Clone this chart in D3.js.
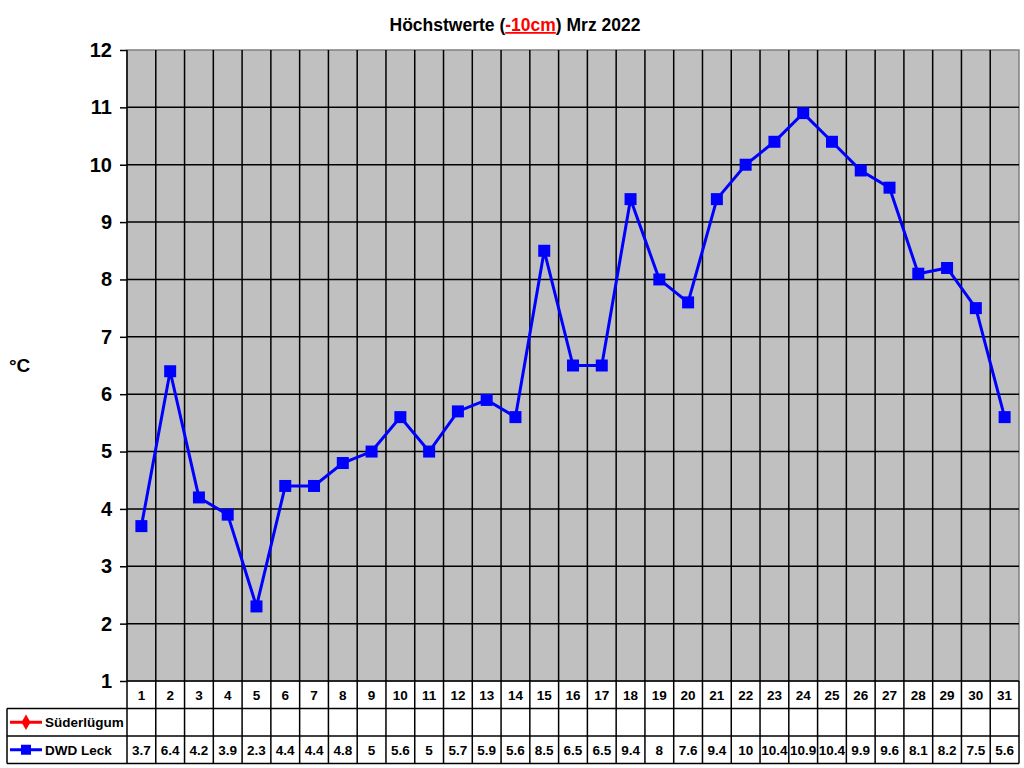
<!DOCTYPE html>
<html>
<head>
<meta charset="utf-8">
<script src="https://cdn.jsdelivr.net/npm/d3@7"></script>
<style>
  body { margin: 0; background: #fff; }
  svg { font-family: "Liberation Sans", Arial, sans-serif; font-weight: bold; }
</style>
</head>
<body>
<svg id="chart" width="1024" height="768"></svg>
<script>
// data
const days = d3.range(1, 32);
const dwdLeck = [3.7, 6.4, 4.2, 3.9, 2.3, 4.4, 4.4, 4.8, 5, 5.6, 5, 5.7, 5.9, 5.6, 8.5,
                 6.5, 6.5, 9.4, 8, 7.6, 9.4, 10, 10.4, 10.9, 10.4, 9.9, 9.6, 8.1, 8.2, 7.5, 5.6];
const suederluegum = [];  // no values this month
const yTicks = d3.range(1, 13);

const svg = d3.select("#chart");
const plotLeft = 127, plotRight = 1019, plotTop = 50, plotBottom = 681;
const rowH = 27.5;

let x = d3.scaleBand().domain(days).range([plotLeft, plotRight]);
let y = d3.scaleLinear().domain([1, 12]).range([plotBottom, plotTop]);

// plot background
svg.append("rect")
    .attr("x", plotLeft).attr("y", plotTop)
    .attr("width", plotRight - plotLeft).attr("height", plotBottom - plotTop)
    .attr("fill", "#c0c0c0")
    .attr("stroke", "#808080").attr("stroke-width", 1.5);

// horizontal grid
svg.append("g").selectAll("line")
    .data(yTicks.slice(1, -1))
    .join("line")
    .attr("x1", plotLeft).attr("x2", plotRight)
    .attr("y1", d => y(d)).attr("y2", d => y(d))
    .attr("stroke", "#000").attr("stroke-width", 1.5);

// vertical lines (plot + table)
svg.append("g").selectAll("line")
    .data(days.slice(1))
    .join("line")
    .attr("x1", d => x(d)).attr("x2", d => x(d))
    .attr("y1", plotTop).attr("y2", plotBottom + 3 * rowH)
    .attr("stroke", "#000").attr("stroke-width", 1.5);

// y axis
let yAxis = d3.axisLeft(y).tickValues(yTicks).tickSize(7).tickPadding(8);
let gy = svg.append("g").attr("transform", `translate(${plotLeft},0)`).call(yAxis);
gy.select(".domain").remove();
gy.selectAll(".tick line").attr("stroke", "#000").attr("stroke-width", 1.5);
gy.selectAll(".tick text")
    .attr("fill", "#000")
    .style("font-size", "20px").style("font-weight", "bold")
    .style("font-family", "'Liberation Sans', Arial, sans-serif");
svg.append("line")
    .attr("x1", plotLeft).attr("x2", plotLeft)
    .attr("y1", plotTop).attr("y2", plotBottom + 3 * rowH)
    .attr("stroke", "#000").attr("stroke-width", 1.5);

// table
const tableLeft = 7;
const rowsY = [plotBottom, plotBottom + rowH, plotBottom + 2 * rowH, plotBottom + 3 * rowH];
svg.append("line").attr("x1", plotLeft).attr("x2", plotRight)
    .attr("y1", rowsY[0]).attr("y2", rowsY[0]).attr("stroke", "#000").attr("stroke-width", 1.5);
[1, 2, 3].forEach(i => {
    svg.append("line").attr("x1", tableLeft).attr("x2", plotRight)
        .attr("y1", rowsY[i]).attr("y2", rowsY[i]).attr("stroke", "#000").attr("stroke-width", 1.5);
});
svg.append("line").attr("x1", tableLeft).attr("x2", tableLeft)
    .attr("y1", rowsY[1]).attr("y2", rowsY[3]).attr("stroke", "#000").attr("stroke-width", 1.5);
svg.append("line").attr("x1", plotRight).attr("x2", plotRight)
    .attr("y1", rowsY[0]).attr("y2", rowsY[3]).attr("stroke", "#000").attr("stroke-width", 1.5);

// day labels
svg.append("g").selectAll("text")
    .data(days)
    .join("text")
    .attr("x", d => x(d) + x.bandwidth() / 2)
    .attr("y", rowsY[0] + rowH / 2 + 5)
    .attr("text-anchor", "middle")
    .style("font-size", "13.5px")
    .text(d => d);

// value labels
svg.append("g").selectAll("text")
    .data(dwdLeck)
    .join("text")
    .attr("x", (d, i) => x(days[i]) + x.bandwidth() / 2)
    .attr("y", rowsY[2] + rowH / 2 + 5)
    .attr("text-anchor", "middle")
    .style("font-size", "13.5px")
    .text(d => d);

// legend entries
let leg = [
    {name: "Süderlügum", color: "#ff0000", shape: d3.symbolDiamond, row: 1},
    {name: "DWD Leck", color: "#0000ff", shape: d3.symbolSquare, row: 2}
];
leg.forEach(l => {
    let cy = rowsY[l.row] + rowH / 2;
    svg.append("line").attr("x1", 10).attr("x2", 42)
        .attr("y1", cy).attr("y2", cy)
        .attr("stroke", l.color).attr("stroke-width", 3);
    svg.append("path")
        .attr("d", d3.symbol().type(l.shape).size(l.shape === d3.symbolSquare ? 100 : 70)())
        .attr("transform", `translate(26,${cy})`)
        .attr("fill", l.color);
    svg.append("text").attr("x", 45).attr("y", cy + 5)
        .style("font-size", "13.5px").text(l.name);
});

// series line
let line = d3.line()
    .x((d, i) => x(days[i]) + x.bandwidth() / 2)
    .y(d => y(d));
svg.append("path")
    .datum(dwdLeck)
    .attr("d", line)
    .attr("fill", "none")
    .attr("stroke", "#0000ff").attr("stroke-width", 3);
svg.append("g").selectAll("rect")
    .data(dwdLeck)
    .join("rect")
    .attr("x", (d, i) => x(days[i]) + x.bandwidth() / 2 - 6)
    .attr("y", d => y(d) - 6)
    .attr("width", 12).attr("height", 12)
    .attr("fill", "#0000ff");

// y label
svg.append("text").attr("x", 9).attr("y", 372)
    .style("font-size", "19px").text("°C");

// title
let title = svg.append("text").attr("x", 515).attr("y", 31)
    .attr("text-anchor", "middle").style("font-size", "17.5px");
title.append("tspan").text("Höchstwerte (");
title.append("tspan").attr("fill", "#ff0000").attr("text-decoration", "underline").text("-10cm");
title.append("tspan").text(") Mrz 2022");
</script>
</body>
</html>
